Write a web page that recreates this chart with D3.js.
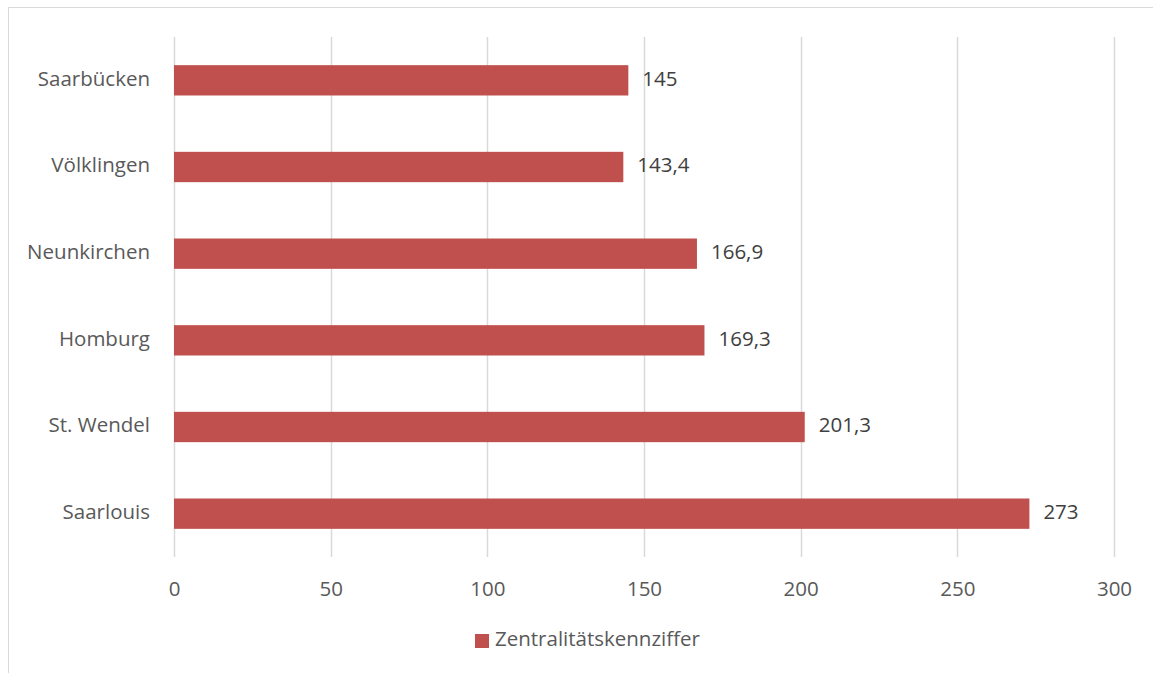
<!DOCTYPE html>
<head>
<meta charset="utf-8">
<script src="https://d3js.org/d3.v7.min.js"></script>
<style>
  body { margin: 0; background: #fff; }
  text { font-family: "Open Sans", sans-serif; }
</style>
</head>
<body>
  <svg id="chart" width="1153" height="673"></svg>
  <script>
    // Data
    const cities = ["Saarbücken", "Völklingen", "Neunkirchen", "Homburg", "St. Wendel", "Saarlouis"];
    const values = [145, 143.4, 166.9, 169.3, 201.3, 273];
    const xTicks = [0, 50, 100, 150, 200, 250, 300];
    const seriesName = "Zentralitätskennziffer";

    const barColor = "#C0504D";
    const fontSize = 20.5;
    const svg = d3.select("svg");

    // chart frame
    svg.append("rect")
      .attr("x", 8.5).attr("y", 7.5)
      .attr("width", 1160).attr("height", 700)
      .attr("fill", "none")
      .attr("stroke", "#D9D9D9");

    const margin = {left: 174, right: 39, top: 37, bottom: 116};
    const x = d3.scaleLinear()
      .domain([0, 300])
      .range([margin.left, 1153 - margin.right]);
    const y = d3.scaleBand()
      .domain(cities)
      .range([margin.top, 673 - margin.bottom])
      .paddingInner(0.65)
      .paddingOuter(0.325);

    // gridlines
    svg.append("g")
      .selectAll("line")
      .data(xTicks)
      .join("line")
      .attr("x1", d => Math.round(x(d)) + 0.5)
      .attr("x2", d => Math.round(x(d)) + 0.5)
      .attr("y1", margin.top)
      .attr("y2", 673 - margin.bottom)
      .attr("stroke", "#D9D9D9")
      .attr("stroke-width", 1.5);

    // x tick labels
    const xAxis = d3.axisBottom(x).tickValues(xTicks).tickSize(0).tickPadding(0);
    const gx = svg.append("g")
      .attr("transform", `translate(0,${673 - margin.bottom + 34})`)
      .call(xAxis);
    gx.select(".domain").remove();
    gx.selectAll("text")
      .attr("dy", null)
      .attr("dominant-baseline", "middle")
      .attr("font-size", fontSize)
      .attr("font-family", "Open Sans, sans-serif")
      .attr("fill", "#595959");

    // y category labels
    const yAxis = d3.axisLeft(y).tickSize(0).tickPadding(24);
    const gy = svg.append("g")
      .attr("transform", `translate(${margin.left},0)`)
      .call(yAxis);
    gy.select(".domain").remove();
    gy.selectAll("text")
      .attr("dy", null)
      .attr("dominant-baseline", "middle")
      .attr("font-size", fontSize)
      .attr("font-family", "Open Sans, sans-serif")
      .attr("fill", "#595959");

    const rows = cities.map((c, i) => ({city: c, value: values[i]}));

    // bars
    svg.append("g")
      .selectAll("rect")
      .data(rows)
      .join("rect")
      .attr("x", x(0))
      .attr("y", d => y(d.city))
      .attr("width", d => x(d.value) - x(0))
      .attr("height", y.bandwidth())
      .attr("fill", barColor);

    // value labels
    svg.append("g")
      .selectAll("text")
      .data(rows)
      .join("text")
      .attr("x", d => x(d.value) + 14)
      .attr("y", d => y(d.city) + y.bandwidth() / 2)
      .attr("dominant-baseline", "middle")
      .attr("font-size", fontSize)
      .attr("fill", "#404040")
      .text(d => String(d.value).replace(".", ","));

    // legend
    const legend = svg.append("g").attr("transform", "translate(475,641)");
    legend.append("rect")
      .attr("x", 0).attr("y", -7)
      .attr("width", 14).attr("height", 14)
      .attr("fill", barColor);
    legend.append("text")
      .attr("x", 20).attr("y", 0)
      .attr("dominant-baseline", "middle")
      .attr("font-size", fontSize)
      .attr("fill", "#595959")
      .text(seriesName);
  </script>
</body>
